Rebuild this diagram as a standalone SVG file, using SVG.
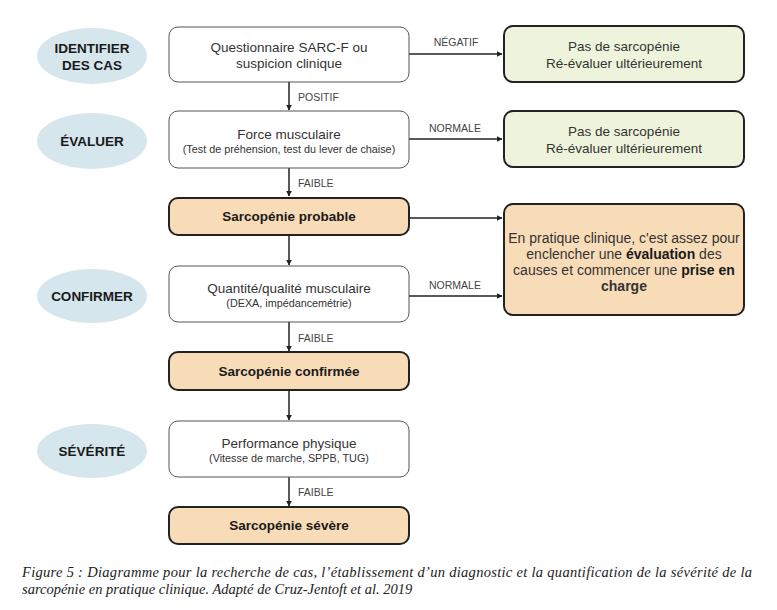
<svg xmlns="http://www.w3.org/2000/svg" width="777" height="610" viewBox="0 0 777 610">
<defs>
<style>
.stage{fill:#d5e6ec;stroke:none}
.stg{font-family:"Liberation Sans",Arial,sans-serif;font-size:13.5px;font-weight:bold;fill:#1a1a1a;text-anchor:middle}
.wbox{fill:#ffffff;stroke:#555;stroke-width:1}
.gbox{fill:#eef3dc;stroke:#222;stroke-width:2}
.obox{fill:#f8dcb8;stroke:#222;stroke-width:2}
.t{font-family:"Liberation Sans",Arial,sans-serif;font-size:13.5px;fill:#333;text-anchor:middle}
.tb{font-family:"Liberation Sans",Arial,sans-serif;font-size:13.5px;font-weight:bold;fill:#1a1a1a;text-anchor:middle}
.r{font-family:"Liberation Sans",Arial,sans-serif;font-size:14px;fill:#333;text-anchor:middle}
.s{font-family:"Liberation Sans",Arial,sans-serif;font-size:10.8px;fill:#333;text-anchor:middle}
.lbl{font-family:"Liberation Sans",Arial,sans-serif;font-size:10.5px;fill:#444}
.cap{font-family:"Liberation Serif","Times New Roman",serif;font-size:14.5px;font-style:italic;fill:#222}
.line{stroke:#222;stroke-width:1.5;fill:none;marker-end:url(#ah)}
</style>
<marker id="ah" viewBox="0 0 10 10" refX="9" refY="5" markerWidth="6" markerHeight="6" markerUnits="userSpaceOnUse" orient="auto">
<path d="M0,0 L10,5 L0,10 z" fill="#222"/>
</marker>
</defs>
<rect width="777" height="610" fill="#ffffff"/>

<g id="stage-identifier"><ellipse class="stage" cx="92" cy="56" rx="55" ry="28"/><text class="stg" x="92" y="53">IDENTIFIER</text><text class="stg" x="92" y="70">DES CAS</text></g>
<g id="stage-evaluer"><ellipse class="stage" cx="92" cy="141" rx="55" ry="28"/><text class="stg" x="92" y="146">ÉVALUER</text></g>
<g id="stage-confirmer"><ellipse class="stage" cx="92" cy="296" rx="55" ry="27"/><text class="stg" x="92" y="301">CONFIRMER</text></g>
<g id="stage-severite"><ellipse class="stage" cx="92" cy="451" rx="55" ry="27"/><text class="stg" x="92" y="456">SÉVÉRITÉ</text></g>

<g id="connectors">
<line class="line" x1="289" y1="82" x2="289" y2="110"/>
<line class="line" x1="289" y1="168" x2="289" y2="196"/>
<line class="line" x1="289" y1="235" x2="289" y2="265"/>
<line class="line" x1="289" y1="322" x2="289" y2="351"/>
<line class="line" x1="289" y1="390" x2="289" y2="420"/>
<line class="line" x1="289" y1="477" x2="289" y2="506"/>
<line class="line" x1="409" y1="54" x2="502" y2="54"/>
<line class="line" x1="409" y1="139" x2="502" y2="139"/>
<line class="line" x1="409" y1="218" x2="502" y2="218"/>
<line class="line" x1="409" y1="296" x2="502" y2="296"/>
<text class="lbl" x="298" y="101">POSITIF</text>
<text class="lbl" x="298" y="187">FAIBLE</text>
<text class="lbl" x="298" y="342">FAIBLE</text>
<text class="lbl" x="298" y="496">FAIBLE</text>
<text class="lbl" x="456" y="46" text-anchor="middle">NÉGATIF</text>
<text class="lbl" x="455" y="132" text-anchor="middle">NORMALE</text>
<text class="lbl" x="455" y="289" text-anchor="middle">NORMALE</text>
</g>

<g id="questionnaire"><rect class="wbox" x="169" y="27" width="240" height="55" rx="9"/><text class="t" x="289" y="52">Questionnaire SARC-F ou</text><text class="t" x="289" y="68">suspicion clinique</text></g>
<g id="force"><rect class="wbox" x="169" y="111" width="240" height="57" rx="9"/><text class="t" x="289" y="139">Force musculaire</text><text class="s" x="289" y="153">(Test de préhension, test du lever de chaise)</text></g>
<g id="probable"><rect class="obox" x="169" y="198" width="240" height="37" rx="9"/><text class="tb" x="289" y="221">Sarcopénie probable</text></g>
<g id="quantite"><rect class="wbox" x="169" y="266" width="240" height="56" rx="9"/><text class="t" x="289" y="293">Quantité/qualité musculaire</text><text class="s" x="289" y="307">(DEXA, impédancemétrie)</text></g>
<g id="confirmee"><rect class="obox" x="169" y="352" width="240" height="38" rx="9"/><text class="tb" x="289" y="376">Sarcopénie confirmée</text></g>
<g id="performance"><rect class="wbox" x="169" y="421" width="240" height="56" rx="9"/><text class="t" x="289" y="448">Performance physique</text><text class="s" x="289" y="462">(Vitesse de marche, SPPB, TUG)</text></g>
<g id="severe"><rect class="obox" x="169" y="507" width="240" height="37" rx="9"/><text class="tb" x="289" y="530">Sarcopénie sévère</text></g>

<g id="pas1"><rect class="gbox" x="504" y="26" width="240" height="56" rx="9"/><text class="t" x="624" y="51">Pas de sarcopénie</text><text class="t" x="624" y="68">Ré-évaluer ultérieurement</text></g>
<g id="pas2"><rect class="gbox" x="504" y="111" width="240" height="56" rx="9"/><text class="t" x="624" y="136">Pas de sarcopénie</text><text class="t" x="624" y="153">Ré-évaluer ultérieurement</text></g>
<g id="pratique"><rect class="obox" x="504" y="204" width="240" height="111" rx="9"/>
<text class="r" x="624" y="243">En pratique clinique, c'est assez pour</text>
<text class="r" x="624" y="259">enclencher une <tspan font-weight="bold" fill="#1a1a1a">évaluation</tspan> des</text>
<text class="r" x="624" y="275">causes et commencer une <tspan font-weight="bold" fill="#1a1a1a">prise en</tspan></text>
<text class="r" x="624" y="291" font-weight="bold" fill="#1a1a1a">charge</text>
</g>

<g id="caption">
<text class="cap" x="22" y="577" textLength="730" lengthAdjust="spacing">Figure 5 : Diagramme pour la recherche de cas, l’établissement d’un diagnostic et la quantification de la sévérité de la</text>
<text class="cap" x="22" y="594">sarcopénie en pratique clinique. Adapté de Cruz-Jentoft et al. 2019</text>
</g>
</svg>
